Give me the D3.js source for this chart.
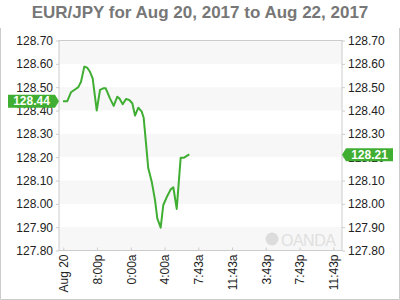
<!DOCTYPE html>
<html>
<head>
<meta charset="utf-8">
<script src="https://cdn.jsdelivr.net/npm/d3@7"></script>
<style>
body { margin: 0; background: #fff; }
svg { display: block; font-family: Arial, "Liberation Sans", sans-serif; }
</style>
</head>
<body>
<svg id="chart" width="400" height="300"></svg>
<script>
// hours counted from Aug 20 00:00
var hours = [15.96, 16.47, 16.91, 17.30, 17.78, 18.10, 18.49, 18.84, 19.16, 19.48,
  19.96, 20.35, 20.74, 21.03, 21.53, 21.97, 22.40, 22.64, 23.04, 23.43,
  23.82, 24.18, 24.50, 24.89, 25.29, 25.52, 25.80, 26.07, 26.48, 26.87,
  27.14, 27.54, 27.85, 28.25, 28.73, 29.04, 29.44, 29.91, 30.31, 30.93];
var prices = [128.44, 128.44, 128.478, 128.488, 128.50, 128.523, 128.588, 128.583, 128.566, 128.538,
  128.40, 128.488, 128.495, 128.495, 128.452, 128.42, 128.459, 128.452, 128.427, 128.449,
  128.445, 128.431, 128.378, 128.412, 128.395, 128.37, 128.26, 128.152, 128.095, 128.016,
  127.938, 127.898, 127.995, 128.028, 128.062, 128.071, 127.978, 128.198, 128.198, 128.212];

var tickHours = [16, 20, 24, 28, 32, 36, 40, 44, 48];
var tickLabels = ["Aug 20", "8:00p", "0:00a", "4:00a", "7:43a", "11:43a", "3:43p", "7:43p", "11:43p"];
var yTicks = [127.8, 127.9, 128.0, 128.1, 128.2, 128.3, 128.4, 128.5, 128.6, 128.7];
var bands = [[127.8, 127.9], [128.0, 128.1], [128.2, 128.3], [128.4, 128.5], [128.6, 128.7]];
var openPrice = 128.44, lastPrice = 128.21;

window.onload = function() {
  makeChart();
};

function makeChart() {
var svg = d3.select("#chart");
var pl = 59, pr = 342, pt = 40.5, pb = 250.5;
var green = "#3fae32";

var x = d3.scaleLinear().domain([15.49, 49.03]).range([pl, pr]);
var y = d3.scaleLinear().domain([127.8, 128.7]).range([pb, pt]);

// outer frame
svg.append("path")
  .attr("d", "M0.5,28V299.5H399.5V28")
  .attr("fill", "none").attr("stroke", "#ccc");

svg.append("text")
  .attr("x", 200).attr("y", 18)
  .attr("text-anchor", "middle")
  .attr("font-size", 17).attr("font-weight", "bold")
  .attr("fill", "#777")
  .text("EUR/JPY for Aug 20, 2017 to Aug 22, 2017");

// stripes
svg.selectAll(".band").data(bands).enter().append("rect")
  .attr("x", pl).attr("width", pr - pl)
  .attr("y", function(d) { return y(d[1]); })
  .attr("height", function(d) { return y(d[0]) - y(d[1]); })
  .attr("fill", "#f7f7f7");

// watermark
var wm = svg.append("g");
wm.append("circle").attr("cx", 272).attr("cy", 239).attr("r", 6.5).attr("fill", "#dcdcdc");
wm.append("text").attr("x", 281).attr("y", 245.5)
  .attr("font-size", 16).attr("fill", "#e0e0e0").attr("letter-spacing", -0.5)
  .text("OANDA");

// axes
var yl = d3.axisLeft(y).tickValues(yTicks).tickSize(3).tickPadding(3).tickFormat(d3.format(".2f"));
var yr = d3.axisRight(y).tickValues(yTicks).tickSize(3).tickPadding(3).tickFormat(d3.format(".2f"));
var xb = d3.axisBottom(x).tickValues(tickHours).tickSize(-3)
  .tickFormat(function(d, i) { return tickLabels[i]; });

function styleAxis(g) {
  g.select(".domain").remove();
  g.selectAll("line").attr("stroke", "#ccc");
  g.selectAll("text").attr("fill", "#222").attr("font-size", 12)
    .attr("font-family", "Arial, 'Liberation Sans', sans-serif");
}

svg.append("g").attr("transform", "translate(" + pl + ",0)").call(yl).call(styleAxis);
svg.append("g").attr("transform", "translate(" + pr + ",0)").call(yr).call(styleAxis);
var gx = svg.append("g").attr("transform", "translate(0," + pb + ")").call(xb).call(styleAxis);
gx.selectAll("text")
  .attr("transform", "rotate(-90)")
  .attr("text-anchor", "end")
  .attr("x", -4).attr("y", 0).attr("dy", "0.35em");

// plot border
svg.append("rect")
  .attr("x", pl).attr("y", pt).attr("width", pr - pl).attr("height", pb - pt)
  .attr("fill", "none").attr("stroke", "#ccc");

// price line
var line = d3.line()
  .x(function(d, i) { return x(hours[i]); })
  .y(function(d) { return y(d); });
svg.append("path").datum(prices)
  .attr("d", line)
  .attr("fill", "none").attr("stroke", green).attr("stroke-width", 2)
  .attr("stroke-linejoin", "round");

// price flags
function flag(px, val, side) {
  var cy = y(val), h = 13, w = 47;
  var s = side === "left" ? -1 : 1;
  var d = "M" + (px + s * (4 + w)) + "," + (cy - h / 2) + "H" + (px + s * 4) + "L" + px + "," + cy +
    "L" + (px + s * 4) + "," + (cy + h / 2) + "H" + (px + s * (4 + w)) + "Z";
  svg.append("path").attr("d", d).attr("fill", green);
  svg.append("text")
    .attr("x", px + s * (4 + w / 2))
    .attr("y", cy).attr("dy", "0.36em")
    .attr("text-anchor", "middle")
    .attr("font-size", 12).attr("font-weight", "bold").attr("fill", "#fff")
    .text(d3.format(".2f")(val));
}
flag(pl, openPrice, "left");
flag(pr, lastPrice, "right");
}
</script>
</body>
</html>
